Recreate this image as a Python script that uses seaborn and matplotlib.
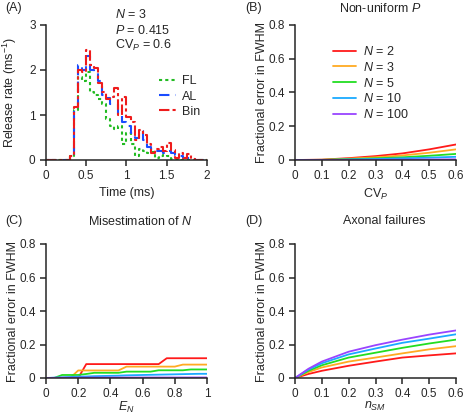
"""
Four-panel figure: release-rate histograms and FWHM error curves.
Saved to out.png
"""

import numpy as np
import pandas as pd
import matplotlib
matplotlib.use("Agg")
import matplotlib.pyplot as plt
import seaborn as sns

sns.set_style("ticks")
plt.rcParams["font.family"] = ["Liberation Sans", "DejaVu Sans"]
plt.rcParams.update({
    "mathtext.fontset": "custom",
    "mathtext.rm": "Liberation Sans",
    "mathtext.it": "Liberation Sans:italic",
    "axes.linewidth": 1.1,
    "xtick.major.width": 1.1,
    "ytick.major.width": 1.1,
    "xtick.major.size": 4,
    "ytick.major.size": 4,
    "xtick.labelsize": 8.5,
    "ytick.labelsize": 8.5,
    "axes.labelsize": 9,
})

# ── data ─────────────────────────────────────────────────────────────────────

# (A) release-rate histograms, 0.05 ms bins from 0 to 2 ms
bin_edges = np.round(np.arange(0, 2.0001, 0.05), 2)
rate_fl = [0, 0, 0, 0, 0, 0, 0.08, 1.10, 1.85, 1.75,
           1.95, 1.50, 1.45, 1.35, 1.25, 0.90, 0.75, 0.70, 0.75, 0.35,
           0.60, 0.35, 0.10, 0.25, 0.20, 0.15, 0.18, 0.05, 0.10, 0.12,
           0.08, 0.03, 0.02, 0.01, 0, 0, 0, 0, 0, 0]
rate_al = [0, 0, 0, 0, 0, 0, 0.08, 1.17, 2.10, 2.00,
           2.30, 2.00, 1.95, 1.75, 1.45, 1.38, 1.25, 1.25, 1.00, 0.85,
           0.75, 0.60, 0.50, 0.65, 0.45, 0.30, 0.25, 0.20, 0.20, 0.15,
           0.20, 0.15, 0.12, 0.08, 0.05, 0.05, 0.03, 0, 0, 0]
rate_bin = [0, 0, 0, 0, 0, 0, 0.08, 1.17, 2.00, 1.95,
            2.45, 2.10, 2.05, 1.70, 1.50, 1.35, 1.40, 1.60, 1.00, 1.40,
            0.95, 0.85, 0.45, 0.67, 0.55, 0.35, 0.15, 0.25, 0.28, 0.20,
            0.37, 0.22, 0.05, 0.15, 0.05, 0.13, 0.02, 0, 0, 0]

n_labels = ["$N$ = 2", "$N$ = 3", "$N$ = 5", "$N$ = 10", "$N$ = 100"]
n_colors = ["#ff1a1a", "#ffaa22", "#22dd22", "#1aaaff", "#9944ff"]

# (B) non-uniform P
cv_p = [0, 0.1, 0.2, 0.3, 0.4, 0.5, 0.6]
err_cv = {
    "$N$ = 2":   [0, 0.002, 0.011, 0.023, 0.039, 0.063, 0.092],
    "$N$ = 3":   [0, 0.001, 0.008, 0.016, 0.027, 0.043, 0.063],
    "$N$ = 5":   [0, 0.001, 0.005, 0.010, 0.016, 0.025, 0.036],
    "$N$ = 10":  [0, 0.000, 0.003, 0.006, 0.010, 0.014, 0.019],
    "$N$ = 100": [0, 0.000, 0.001, 0.001, 0.002, 0.003, 0.004],
}

# (C) misestimation of N
e_n = [0, 0.05, 0.1, 0.15, 0.2, 0.25, 0.3, 0.35, 0.4, 0.45, 0.5,
       0.55, 0.6, 0.65, 0.7, 0.75, 0.8, 0.85, 0.9, 0.95, 1.0]
err_en = {
    "$N$ = 2":   [0, 0, 0, 0, 0, 0.083, 0.083, 0.083, 0.083, 0.083, 0.083,
                  0.083, 0.083, 0.083, 0.083, 0.118, 0.118, 0.118, 0.118, 0.118, 0.118],
    "$N$ = 3":   [0, 0, 0, 0, 0.045, 0.045, 0.045, 0.045, 0.045, 0.045, 0.068,
                  0.068, 0.068, 0.068, 0.068, 0.068, 0.068, 0.080, 0.080, 0.080, 0.080],
    "$N$ = 5":   [0, 0, 0.018, 0.018, 0.018, 0.024, 0.031, 0.031, 0.031, 0.031, 0.038,
                  0.038, 0.038, 0.038, 0.046, 0.046, 0.046, 0.046, 0.051, 0.051, 0.051],
    "$N$ = 10":  [0, 0.002, 0.004, 0.006, 0.008, 0.009, 0.011, 0.012, 0.013, 0.014, 0.016,
                  0.017, 0.018, 0.019, 0.020, 0.021, 0.022, 0.023, 0.024, 0.025, 0.025],
    "$N$ = 100": [0, 0.001, 0.002, 0.002, 0.002, 0.003, 0.003, 0.003, 0.003, 0.003, 0.003,
                  0.003, 0.003, 0.003, 0.003, 0.003, 0.003, 0.003, 0.003, 0.003, 0.003],
}

# (D) axonal failures
n_sm = [0, 0.05, 0.1, 0.2, 0.3, 0.4, 0.5, 0.6]
err_sm = {
    "$N$ = 2":   [0, 0.024, 0.043, 0.073, 0.098, 0.122, 0.135, 0.147],
    "$N$ = 3":   [0, 0.035, 0.063, 0.098, 0.122, 0.147, 0.171, 0.190],
    "$N$ = 5":   [0, 0.043, 0.076, 0.122, 0.151, 0.180, 0.206, 0.229],
    "$N$ = 10":  [0, 0.050, 0.088, 0.141, 0.176, 0.210, 0.235, 0.261],
    "$N$ = 100": [0, 0.055, 0.098, 0.157, 0.196, 0.229, 0.259, 0.284],
}

# ── layout ───────────────────────────────────────────────────────────────────

W, H = 464, 418
fig = plt.figure(figsize=(W / 100, H / 100), dpi=100)


def px_axes(left, top, right, bottom):
    return fig.add_axes([left / W, 1 - bottom / H, (right - left) / W, (bottom - top) / H])


def fig_text(x, y, s, **kw):
    fig.text(x / W, 1 - y / H, s, **kw)


def style_axes(ax):
    sns.despine(ax=ax)
    ax.xaxis.set_major_formatter(lambda v, pos: f"{v:g}")
    ax.yaxis.set_major_formatter(lambda v, pos: f"{v:g}")


ax_a = px_axes(46, 25, 207, 160)
ax_b = px_axes(295, 25, 456, 160)
ax_c = px_axes(46, 244, 207, 378)
ax_d = px_axes(295, 244, 456, 378)

# ── (A) ──────────────────────────────────────────────────────────────────────

hist = pd.DataFrame({
    "t": bin_edges,
    "FL": rate_fl + [rate_fl[-1]],
    "AL": rate_al + [rate_al[-1]],
    "Bin": rate_bin + [rate_bin[-1]],
})
sns.lineplot(data=hist, x="t", y="FL", drawstyle="steps-post", color="#22bb22",
             linestyle=(0, (1.5, 1.5)), linewidth=1.5, label="FL", ax=ax_a)
sns.lineplot(data=hist, x="t", y="AL", drawstyle="steps-post", color="#1a4cff",
             linestyle=(0, (5, 3)), linewidth=1.5, label="AL", ax=ax_a)
sns.lineplot(data=hist, x="t", y="Bin", drawstyle="steps-post", color="#ee1c1c",
             linestyle=(0, (5, 1.5, 1.5, 1.5)), linewidth=1.5, label="Bin", ax=ax_a)
ax_a.set_xlim(0, 2)
ax_a.set_ylim(0, 3)
ax_a.set_xticks([0, 0.5, 1, 1.5, 2])
ax_a.set_yticks([0, 1, 2, 3])
ax_a.set_xlabel("Time (ms)")
ax_a.set_ylabel("Release rate (ms$^{-1}$)")
ax_a.legend(loc="center left", bbox_to_anchor=(0.66, 0.47), frameon=False,
            fontsize=9, handlelength=1.4, handletextpad=0.5, labelspacing=0.25,
            borderpad=0)
style_axes(ax_a)

fig_text(115, 15, "$N$ = 3", fontsize=9, va="center")
fig_text(115, 31, "$P$ = 0.415", fontsize=9, va="center")
fig_text(115, 45, "CV$_P$ = 0.6", fontsize=9, va="center")

# ── (B), (C), (D) ────────────────────────────────────────────────────────────


def err_frame(xs, series):
    rows = []
    for lab, ys in series.items():
        for x, y in zip(xs, ys):
            rows.append({"x": x, "err": y, "N": lab})
    return pd.DataFrame(rows)


for ax, xs, series in [(ax_b, cv_p, err_cv), (ax_c, e_n, err_en), (ax_d, n_sm, err_sm)]:
    sns.lineplot(data=err_frame(xs, series), x="x", y="err", hue="N",
                 hue_order=n_labels, palette=n_colors, linewidth=1.3,
                 legend=(ax is ax_b), ax=ax)
    ax.set_ylim(0, 0.8)
    ax.set_yticks([0, 0.2, 0.4, 0.6, 0.8])
    ax.set_ylabel("Fractional error in FWHM")
    style_axes(ax)

ax_b.set_xlim(0, 0.6)
ax_b.set_xticks(cv_p)
ax_b.set_xlabel("CV$_P$")
ax_b.legend(loc="center left", bbox_to_anchor=(0.2, 0.57), frameon=False,
            fontsize=9, handlelength=1.8, handletextpad=0.6, labelspacing=0.22,
            borderpad=0)

ax_c.set_xlim(0, 1)
ax_c.set_xticks([0, 0.2, 0.4, 0.6, 0.8, 1])
ax_c.set_xlabel("$E_N$")

ax_d.set_xlim(0, 0.6)
ax_d.set_xticks([0, 0.1, 0.2, 0.3, 0.4, 0.5, 0.6])
ax_d.set_xlabel("$n_{SM}$")

for ax in [ax_a, ax_b]:
    ax.yaxis.set_label_coords(-0.165, 0.5)
    ax.xaxis.set_label_coords(0.5, -0.2)
for ax in [ax_c, ax_d]:
    ax.yaxis.set_label_coords(-0.165, 0.5)
    ax.xaxis.set_label_coords(0.5, -0.16)

# panel letters and titles
fig_text(5, 8, "(A)", fontsize=9, va="center")
fig_text(245, 8, "(B)", fontsize=9, va="center")
fig_text(5, 221, "(C)", fontsize=9, va="center")
fig_text(245, 221, "(D)", fontsize=9, va="center")
fig_text(380, 8, "Non-uniform $P$", fontsize=9, va="center", ha="center")
fig_text(140, 221, "Misestimation of $N$", fontsize=9, va="center", ha="center")
fig_text(384, 221, "Axonal failures", fontsize=9, va="center", ha="center")

fig.savefig("out.png", dpi=100)
